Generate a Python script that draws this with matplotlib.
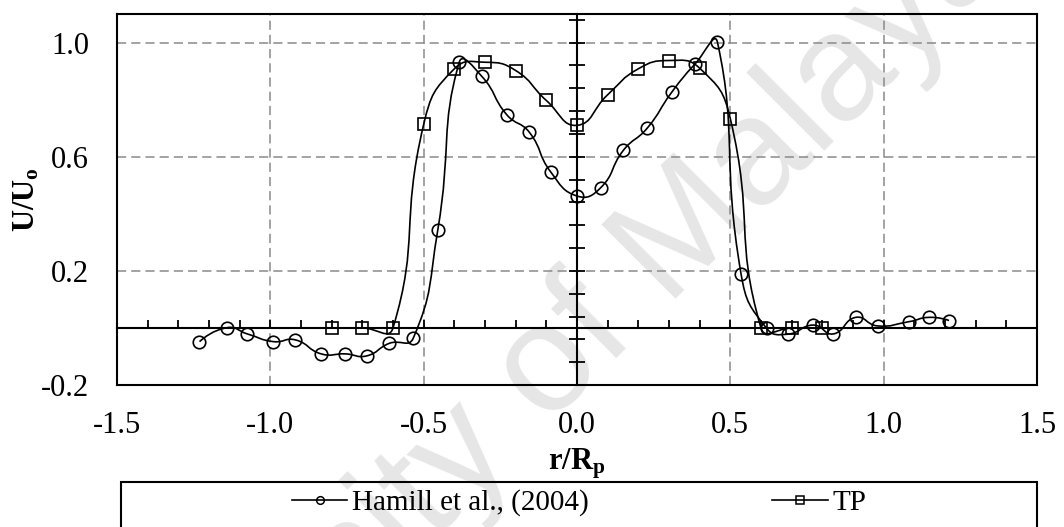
import numpy as np
import matplotlib
matplotlib.use("Agg")
import matplotlib.pyplot as plt
from matplotlib.path import Path
from matplotlib.patches import PathPatch, Rectangle
from matplotlib.lines import Line2D

# ---------------- data ----------------
hamill_r = [-1.231, -1.140, -1.075, -0.990, -0.918, -0.834, -0.755, -0.686, -0.612, -0.534,
            -0.454, -0.384, -0.310, -0.229, -0.155, -0.086, 0.001, 0.077, 0.151, 0.229,
            0.309, 0.385, 0.458, 0.535, 0.618, 0.687, 0.771, 0.836, 0.909, 0.980,
            1.083, 1.148, 1.213]
hamill_u = [-0.048, 0.001, -0.021, -0.048, -0.042, -0.091, -0.091, -0.098, -0.054, -0.036,
            0.343, 0.931, 0.881, 0.747, 0.685, 0.547, 0.462, 0.491, 0.622, 0.700,
            0.826, 0.925, 1.001, 0.189, -0.001, -0.022, 0.010, -0.021, 0.037, 0.007,
            0.022, 0.037, 0.026]
tp_r = [-0.8, -0.7, -0.6, -0.5, -0.4, -0.3, -0.2, -0.1, 0.0, 0.1, 0.2, 0.3, 0.4, 0.5, 0.6, 0.7, 0.8]
tp_u = [0.0, 0.0, 0.0, 0.713, 0.908, 0.931, 0.902, 0.797, 0.710, 0.817, 0.908, 0.937, 0.910, 0.733,
        0.0, 0.0, 0.0]
series_names = ["Hamill et al., (2004)", "TP"]
x_ticks = [-1.5, -1.0, -0.5, 0.0, 0.5, 1.0, 1.5]
y_ticks = [-0.2, 0.2, 0.6, 1.0]

plt.rcParams['font.family'] = ['Liberation Serif', 'DejaVu Serif']
plt.rcParams['mathtext.fontset'] = 'custom'
plt.rcParams['mathtext.rm'] = 'Liberation Serif'
plt.rcParams['mathtext.bf'] = 'Liberation Serif:bold'
plt.rcParams['mathtext.it'] = 'Liberation Serif:italic'
plt.rcParams['axes.unicode_minus'] = False


def smooth_path(ax, xs, ys, t=0.5):
    """Smoothed line through the points (segment-length weighted Bezier, like Excel)."""
    p = ax.transData.transform(np.column_stack([xs, ys]).astype(float))
    n = len(p)
    c_in = p.copy()
    c_out = p.copy()
    for i in range(1, n - 1):
        d01 = np.hypot(*(p[i] - p[i - 1]))
        d12 = np.hypot(*(p[i + 1] - p[i]))
        s = d01 + d12
        if s == 0:
            continue
        tan = p[i + 1] - p[i - 1]
        c_in[i] = p[i] - t * d01 / s * tan
        c_out[i] = p[i] + t * d12 / s * tan
    c_out[0] = p[0] + (c_in[1] - p[0]) / 3.0 if n > 1 else p[0]
    c_in[-1] = p[-1] + (c_out[-2] - p[-1]) / 3.0 if n > 1 else p[-1]
    verts = [p[0]]
    codes = [Path.MOVETO]
    for i in range(n - 1):
        verts += [c_out[i], c_in[i + 1], p[i + 1]]
        codes += [Path.CURVE4] * 3
    verts = ax.transData.inverted().transform(np.array(verts))
    return Path(verts, codes)


fig = plt.figure(figsize=(10.64, 5.27), dpi=100)
fig.patch.set_facecolor('white')

# watermark
fig.text(530 / 1064, 1 - 445 / 527, "University of Malaya", rotation=45,
         rotation_mode='anchor', ha='center', va='baseline', fontsize=110,
         family='Liberation Sans', color='#e6e6e6', zorder=-5)

pos = [117 / 1064, 1 - 385 / 527, (1037 - 117) / 1064, (385 - 14) / 527]
ax = fig.add_axes(pos)
ax.patch.set_alpha(0)
ax.set_xlim(-1.5, 1.5)
ax.set_ylim(-0.2, 1.1)
ax.set_xticks(x_ticks)
ax.set_yticks(y_ticks)
ax.set_xticklabels([f"{v:.1f}" for v in x_ticks])
ax.set_yticklabels([f"{v:.1f}" for v in y_ticks])
ax.tick_params(axis='both', length=0, labelsize=22)
ax.tick_params(axis='x', pad=19)
ax.tick_params(axis='y', pad=20)
ax.grid(True, color='#8a8a8a', linewidth=1.1, linestyle=(0, (6, 3.3)))
ax.set_axisbelow(True)
for s in ax.spines.values():
    s.set_linewidth(1.5)
    s.set_color('black')
    s.set_zorder(6)

lw = 1.2
for xs, ys, mk in [(hamill_r, hamill_u, 'o'), (tp_r, tp_u, 's')]:
    ax.add_patch(PathPatch(smooth_path(ax, xs, ys), facecolor='none', edgecolor='black',
                           linewidth=lw, zorder=3))
    ax.plot(xs, ys, linestyle='none', marker=mk, markersize=9 if mk == 'o' else 8.5,
            markerfacecolor='none', markeredgecolor='black', markeredgewidth=1.2, zorder=4)

ax.set_xlabel(r"$\mathbf{r/R_p}$", fontsize=22, labelpad=4)
ax.set_ylabel(r"$\mathbf{U/U_o}$", fontsize=22)
ax.yaxis.set_label_coords(-0.082, 0.5)

# zero axes with their own ticks
ax2 = fig.add_axes(pos)
ax2.patch.set_visible(False)
ax2.set_xlim(-1.5, 1.5)
ax2.set_ylim(-0.2, 1.1)
ax2.spines['top'].set_visible(False)
ax2.spines['right'].set_visible(False)
ax2.spines['left'].set_position(('data', 0))
ax2.spines['bottom'].set_position(('data', 0))
ax2.spines['left'].set_linewidth(1.5)
ax2.spines['bottom'].set_linewidth(1.5)
ax2.set_xticks(np.round(np.arange(-14, 15, 1) / 10.0, 2))
ax2.set_yticks(np.round(np.arange(-20, 110, 8) / 100.0, 2))
ax2.tick_params(axis='x', direction='in', length=6, width=1.3, labelbottom=False)
ax2.tick_params(axis='y', direction='inout', length=12, width=1.3, labelleft=False)

# legend
fig.patches.append(Rectangle((121 / 1064, -0.05), (1037 - 121) / 1064, (527 - 482) / 527 + 0.05,
                             transform=fig.transFigure, facecolor='none', edgecolor='black',
                             linewidth=1.5, zorder=10))
handles = [Line2D([], [], color='black', linewidth=lw, marker='o', markersize=5.5,
                  markerfacecolor='none', markeredgewidth=1.1),
           Line2D([], [], color='black', linewidth=lw, marker='s', markersize=5.5,
                  markerfacecolor='none', markeredgewidth=1.1)]
fig.legend(handles, series_names, loc='center', bbox_to_anchor=(579 / 1064, 1 - 503 / 527),
           ncol=2, frameon=False, fontsize=21, handlelength=1.9, handletextpad=0.15,
           columnspacing=6.3, borderpad=0, borderaxespad=0)

fig.savefig("out.png", dpi=100)
